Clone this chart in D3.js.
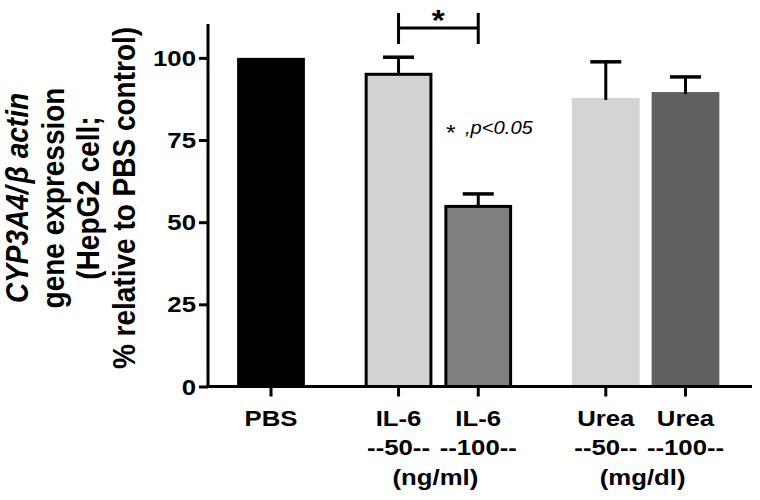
<!DOCTYPE html>
<html>
<head>
<meta charset="utf-8">
<script src="https://cdn.jsdelivr.net/npm/d3@7"></script>
<style>
  html, body { margin: 0; padding: 0; background: #fff; }
  svg { display: block; font-family: "Liberation Sans", Arial, sans-serif; }
</style>
</head>
<body>
<svg id="chart" width="760" height="500"></svg>
<script>
// ---- data ----
const categories = ["PBS", "IL-6 50", "IL-6 100", "Urea 50", "Urea 100"];
const groups     = ["PBS", "IL-6", "IL-6", "Urea", "Urea"];
const labelLine1 = ["PBS", "IL-6", "IL-6", "Urea", "Urea"];
const labelLine2 = ["", "--50--", "--100--", "--50--", "--100--"];
const groupUnits = [{ group: "IL-6", text: "(ng/ml)" }, { group: "Urea", text: "(mg/dl)" }];
const means      = [100, 95.0, 54.8, 87.8, 89.6];
const sems       = [0, 5.2, 3.8, 11.0, 4.6];
const fills      = ["#000000", "#d3d3d3", "#808080", "#d4d4d4", "#606060"];
const outlined   = [false, true, true, false, false];
const yTicks     = [0, 25, 50, 75, 100];

// ---- layout ----
const svg = d3.select("#chart");
const SX = 1.12; // horizontal stretch of the lettering
const groupNames = Array.from(new Set(groups));
const slot = categories.map((c, i) => i + groupNames.indexOf(groups[i]) * 0.6);

const x = d3.scaleLinear().domain([0, 5.2]).range([271, 685.5]);
const y = d3.scaleLinear().domain([0, 110]).range([386.5, 25]);
const unit = x(1) - x(0);
const barW = unit * 0.85;
const axisLeft = 208, axisRight = 752;
const fontTick = 23;

function label(px, py, txt, opts = {}) {
  return svg.append("text")
    .attr("transform", `translate(${px},${py}) scale(${SX},1)`)
    .attr("text-anchor", opts.anchor || "middle")
    .attr("font-size", opts.size || fontTick)
    .attr("font-weight", opts.weight || "bold")
    .attr("font-style", opts.style || "normal")
    .attr("fill", "#000")
    .text(txt);
}

// bars
categories.forEach((c, i) => {
  const cx = x(slot[i]);
  if (outlined[i]) {
    svg.append("rect")
      .attr("x", cx - barW / 2 + 1.5).attr("width", barW - 3)
      .attr("y", y(means[i])).attr("height", y(0) - y(means[i]))
      .attr("fill", fills[i]).attr("stroke", "#000").attr("stroke-width", 3);
  } else {
    svg.append("rect")
      .attr("x", cx - barW / 2).attr("width", barW)
      .attr("y", y(means[i])).attr("height", y(0) - y(means[i]))
      .attr("fill", fills[i]);
  }
  if (sems[i] > 0) {
    const top = y(means[i] + sems[i]);
    svg.append("line").attr("x1", cx).attr("x2", cx)
      .attr("y1", y(means[i]) + (outlined[i] ? 0 : 2)).attr("y2", top)
      .attr("stroke", "#000").attr("stroke-width", 3);
    svg.append("line").attr("x1", cx - 15.5).attr("x2", cx + 15.5)
      .attr("y1", top).attr("y2", top)
      .attr("stroke", "#000").attr("stroke-width", 3.5);
  }
});

// y axis
const yAxis = d3.axisLeft(y).tickValues(yTicks).tickSize(9).tickFormat("");
const gy = svg.append("g").attr("transform", `translate(${axisLeft},0)`).call(yAxis);
gy.select(".domain").remove();
gy.selectAll(".tick line").attr("stroke", "#000").attr("stroke-width", 3);
yTicks.forEach(v => label(axisLeft - 12, y(v) + 8, String(v), { anchor: "end" }));
svg.append("line").attr("x1", axisLeft).attr("x2", axisLeft)
  .attr("y1", y(110) - 1).attr("y2", y(0) + 1.5)
  .attr("stroke", "#000").attr("stroke-width", 3);

// x axis
svg.append("line").attr("x1", axisLeft - 1.5).attr("x2", axisRight)
  .attr("y1", y(0)).attr("y2", y(0))
  .attr("stroke", "#000").attr("stroke-width", 3);
categories.forEach((c, i) => {
  const cx = x(slot[i]);
  svg.append("line").attr("x1", cx).attr("x2", cx)
    .attr("y1", y(0)).attr("y2", y(0) + 10)
    .attr("stroke", "#000").attr("stroke-width", 3);
  label(cx, 426, labelLine1[i]);
  if (labelLine2[i]) label(cx, 455, labelLine2[i]);
});
groupUnits.forEach(g => {
  const idx = groups.map((d, i) => d === g.group ? i : -1).filter(i => i >= 0);
  const cx = d3.mean(idx, i => x(slot[i]));
  label(cx - 3, 485, g.text);
});

// y title
const TF = 28;
const title = svg.append("g").attr("transform", `translate(3,198) scale(${SX},1) rotate(-90)`);
const t1 = title.append("text").attr("x", 0).attr("y", 25 / SX)
  .attr("text-anchor", "middle").attr("font-size", TF).attr("font-weight", "bold").attr("font-style", "italic");
t1.append("tspan").text("CYP3A4/");
t1.append("tspan").attr("dx", 3).text("\u03B2 actin");
title.append("text").attr("x", 0).attr("y", 61 / SX).attr("text-anchor", "middle")
  .attr("font-size", TF).attr("font-weight", "bold").text("gene expression");
title.append("text").attr("x", 0).attr("y", 96 / SX).attr("text-anchor", "middle")
  .attr("font-size", TF).attr("font-weight", "bold").text("(HepG2 cell;");
title.append("text").attr("x", 0).attr("y", 132 / SX).attr("text-anchor", "middle")
  .attr("font-size", TF).attr("font-weight", "bold").text("% relative to PBS control)");

// significance bracket between IL-6 50 and IL-6 100
const bx1 = x(slot[1]), bx2 = x(slot[2]);
svg.append("line").attr("x1", bx1).attr("x2", bx2).attr("y1", 28).attr("y2", 28)
  .attr("stroke", "#000").attr("stroke-width", 3);
[bx1, bx2].forEach(bx => svg.append("line").attr("x1", bx).attr("x2", bx)
  .attr("y1", 13).attr("y2", 44).attr("stroke", "#000").attr("stroke-width", 3));
label((bx1 + bx2) / 2, 30, "*", { size: 30 });

// p-value note
label(446, 140, "*", { size: 22, anchor: "start", weight: "normal" });
label(465, 134, ",p<0.05", { size: 18, anchor: "start", weight: "normal", style: "italic" });
</script>
</body>
</html>
